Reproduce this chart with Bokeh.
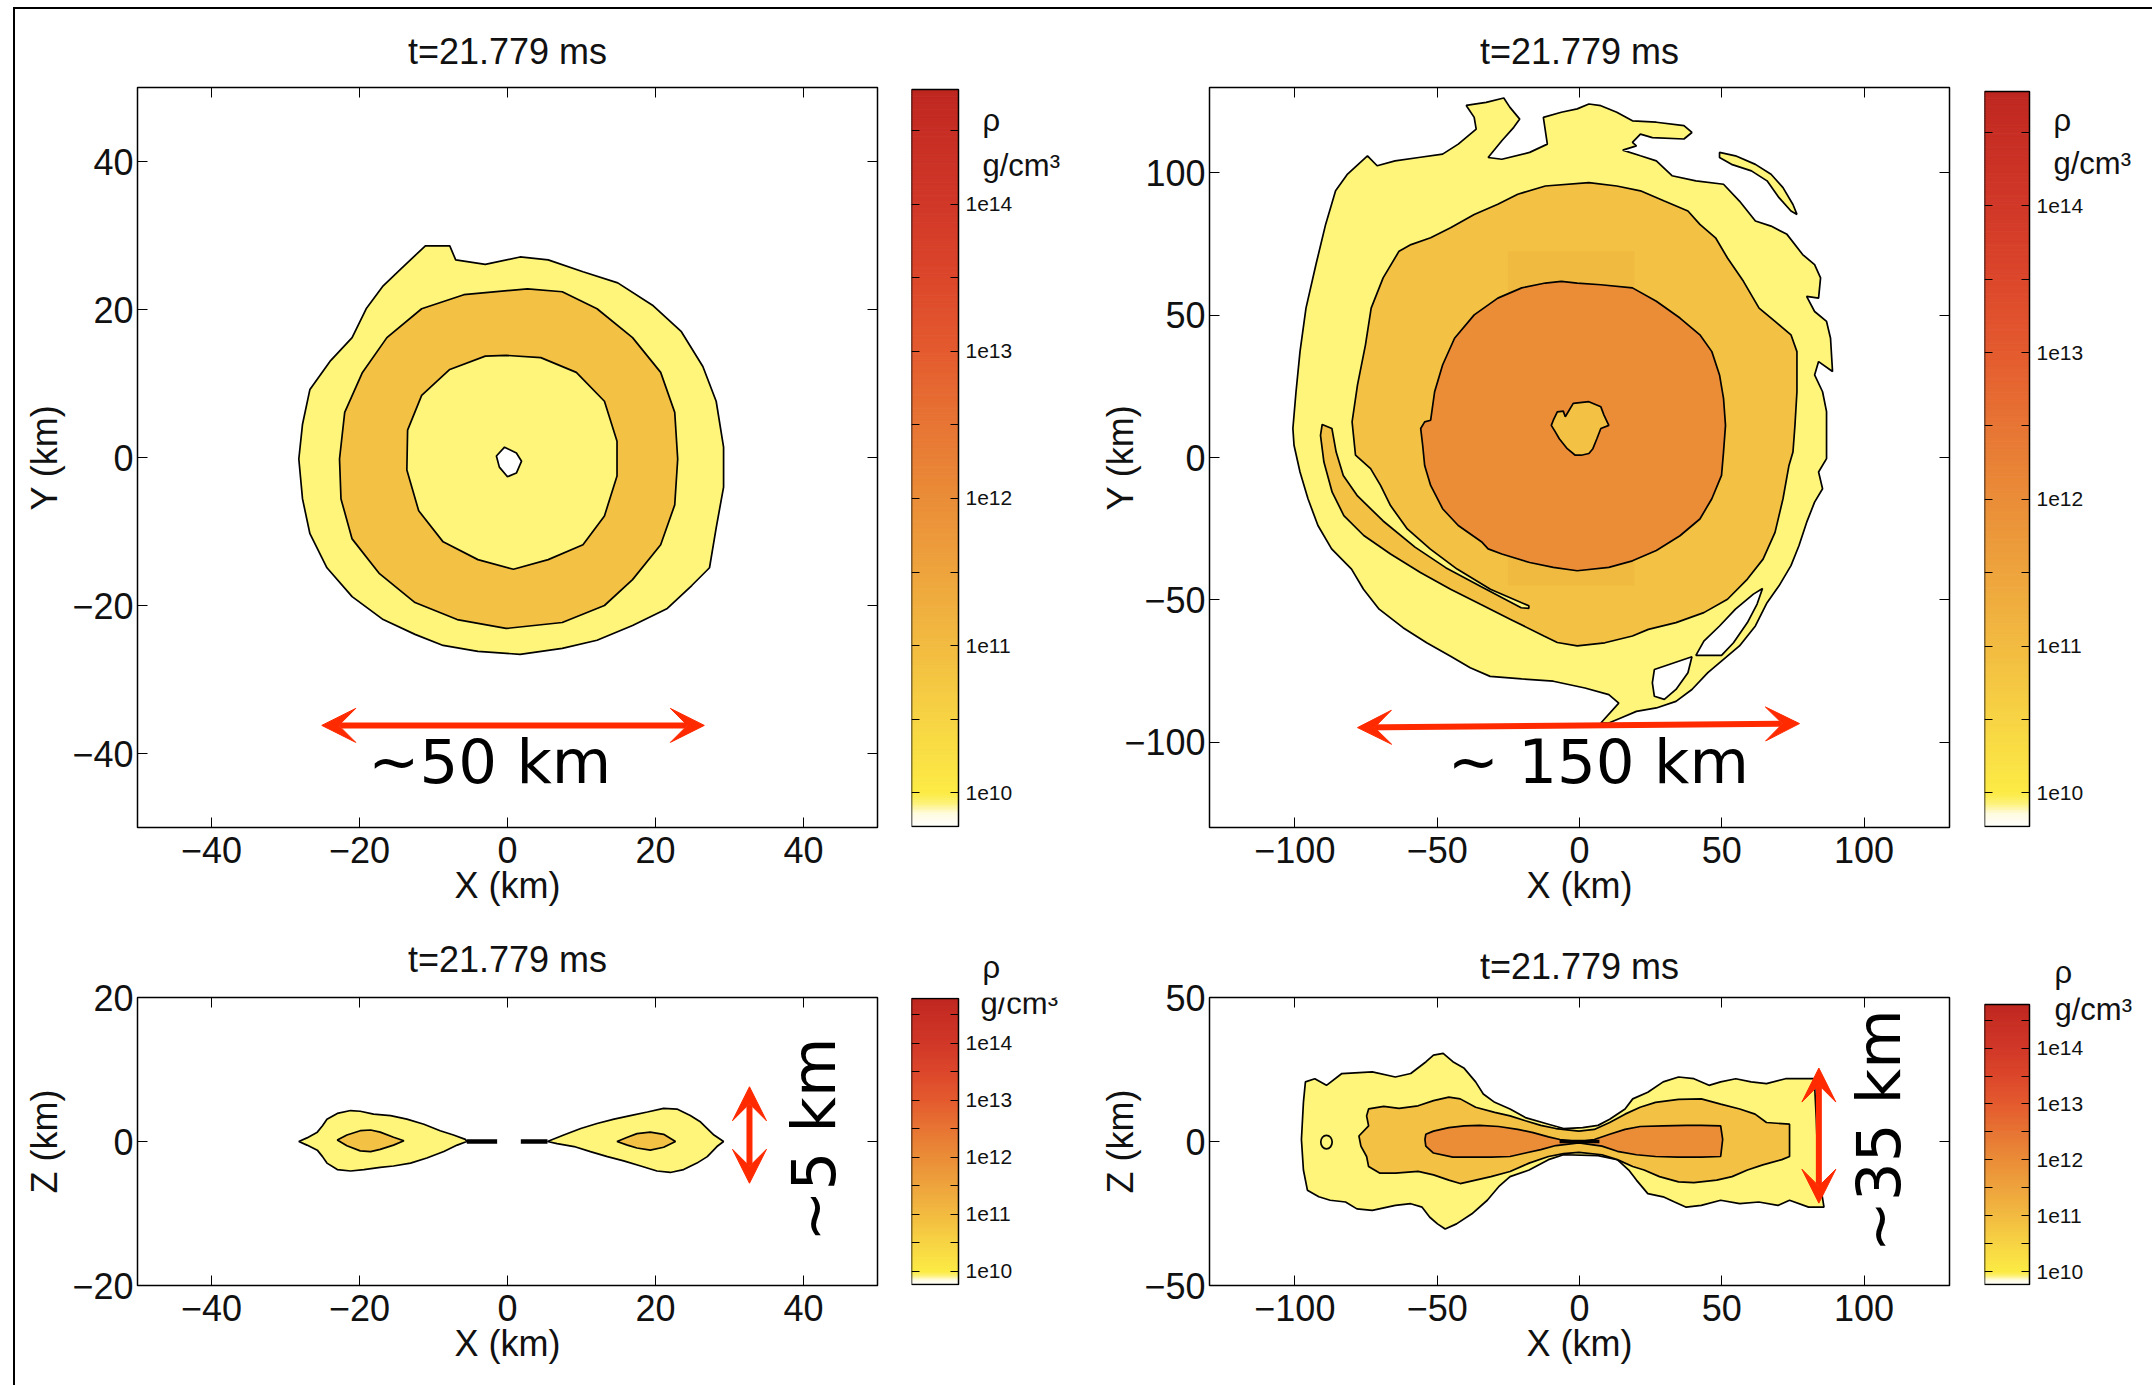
import numpy as np
from bokeh.plotting import figure
from bokeh.layouts import row, column
from bokeh.models import (Range1d, FixedTicker, LinearAxis, Label, Arrow, VeeHead,
                          CustomJSTickFormatter)
from bokeh.embed import file_html
from bokeh.resources import INLINE

# ---------------------------------------------------------------- data
TITLE = "t=21.779 ms"

# density contour colours (levels ~1e10, ~1e11, ~1e12)
YEL, GOLD, ORNG = "#FFF57A", "#F3C244", "#EB8D37"

# colour bar (log10 rho)
CB_LO, CB_HI = 9.77, 14.78
CB_TICKS = [10, 10.5, 11, 11.5, 12, 12.5, 13, 13.5, 14, 14.5]
CB_LEVELS = [9.77, 9.86, 9.93, 10.0, 10.5, 11.0, 11.5, 12.0, 12.5, 13.0, 13.5, 14.0, 14.5, 14.78]
CB_COLORS = ["#FFFFFF", "#FFFBE0", "#FDF27A", "#FCEB45", "#F7D444", "#F2BB41", "#EEA43D",
             "#EA8D38", "#E77534", "#E45B2F", "#DC472B", "#D13828", "#C72E24", "#BE2720"]

# ---- top-left: X-Y plane, 50 km box
TL_OUTER = [(-11.1, 28.6), (-7.8, 28.6), (-7.0, 26.7), (-3.0, 26.1), (1.7, 27.1), (5.5, 26.7),
            (10.2, 25.1), (14.9, 23.6), (19.7, 20.5), (23.5, 17.0), (26.4, 12.3), (28.2, 7.6),
            (29.2, 1.4), (29.2, -4.0), (28.2, -9.5), (27.3, -14.9), (24.9, -17.3), (21.6, -20.4),
            (16.9, -22.7), (12.1, -24.7), (7.4, -25.8), (1.7, -26.6), (-4.0, -26.2), (-8.7, -25.4),
            (-12.5, -23.9), (-16.8, -21.9), (-21.0, -18.8), (-24.4, -14.9), (-26.7, -10.3),
            (-27.7, -5.6), (-28.2, -0.2), (-27.7, 4.5), (-26.7, 9.2), (-23.9, 13.1), (-21.0, 16.2),
            (-19.1, 20.1), (-16.8, 23.2), (-14.4, 25.5)]
TL_RING = [(2.7, 22.8), (7.4, 22.4), (12.1, 20.1), (16.9, 16.2), (20.7, 11.5), (22.6, 6.1),
           (23.0, -0.2), (22.6, -6.4), (20.7, -11.8), (16.9, -16.5), (13.1, -20.0), (7.4, -22.3),
           (-0.2, -23.1), (-6.8, -21.9), (-12.5, -19.6), (-17.3, -15.7), (-21.0, -11.0),
           (-22.5, -5.6), (-22.7, -0.2), (-22.0, 6.1), (-19.6, 11.5), (-16.3, 16.2), (-11.6, 20.1),
           (-5.9, 22.0)]
TL_INNER = [(-0.2, 13.8), (4.5, 13.5), (9.3, 11.5), (13.1, 7.6), (14.8, 2.2), (14.8, -2.5),
            (13.1, -7.9), (10.2, -11.8), (5.5, -13.8), (0.8, -15.1), (-4.0, -13.8), (-8.7, -11.4),
            (-12.0, -7.2), (-13.6, -1.7), (-13.5, 3.7), (-11.6, 8.4), (-7.8, 11.9), (-3.0, 13.7)]
TL_HOLE = [(-0.4, 1.4), (1.2, 0.6), (1.9, -0.5), (1.2, -2.1), (0.0, -2.6), (-1.1, -1.3), (-1.5, 0.2)]

# ---- top-right: X-Y plane, 150 km box
TR_OUTER = [(7.5, -93.3), (13.8, -86.3), (10.3, -83.3), (1.9, -81.0), (-9.2, -78.6), (-20.3, -77.8),
            (-31.4, -76.9), (-38.4, -73.9), (-45.3, -69.8), (-53.7, -65.1), (-62.0, -59.8),
            (-70.4, -53.3), (-75.9, -46.3), (-80.1, -39.2), (-87.1, -32.1), (-91.9, -23.9),
            (-95.4, -14.5), (-98.2, -5.1), (-100.3, 4.3), (-100.7, 10.2), (-99.6, 23.1),
            (-98.2, 37.2), (-96.1, 52.5), (-92.6, 67.8), (-89.2, 81.9), (-85.7, 93.7), (-81.5, 99.6),
            (-74.5, 106.0), (-71.1, 102.5), (-64.8, 104.2), (-56.5, 105.4), (-48.1, 106.6),
            (-42.6, 110.1), (-36.3, 115.4), (-37.0, 119.5), (-39.8, 123.7), (-32.8, 124.8),
            (-26.6, 126.3), (-24.5, 123.1), (-21.0, 118.9), (-23.1, 116.0), (-27.3, 111.3),
            (-32.1, 105.4), (-27.3, 104.8), (-17.5, 107.2), (-11.3, 110.1), (-12.7, 119.5),
            (-6.4, 121.3), (-0.8, 122.5), (3.3, 124.2), (7.5, 123.6), (13.1, 121.3), (18.6, 118.3),
            (27.0, 117.8), (36.7, 116.6), (39.5, 114.2), (36.7, 111.9), (25.6, 112.4), (21.4, 113.6),
            (18.6, 110.7), (20.0, 109.5), (15.2, 108.0), (21.4, 106.0), (27.0, 104.2), (32.5, 99.0),
            (40.9, 97.2), (50.6, 96.0), (56.2, 90.1), (61.8, 83.1), (67.3, 81.3), (72.9, 78.4),
            (78.4, 71.3), (82.6, 67.8), (84.7, 63.1), (84.0, 56.0), (79.8, 56.6), (82.6, 51.3),
            (86.8, 47.8), (88.2, 41.9), (88.9, 30.2), (84.0, 33.7), (82.6, 29.0), (85.4, 23.1),
            (86.8, 16.1), (86.8, -0.4), (84.0, -5.1), (85.4, -11.0), (82.6, -15.7), (79.8, -22.8),
            (77.1, -31.0), (74.3, -38.0), (70.1, -45.1), (65.9, -51.0), (61.8, -59.2), (56.2, -66.2),
            (50.6, -70.9), (45.1, -75.6), (39.5, -81.5), (33.9, -85.7), (27.0, -88.0), (20.0, -89.2),
            (14.5, -91.5), (10.3, -93.3)]
TR_FILAMENT = [(49.2, 107.2), (54.8, 106.0), (61.8, 103.0), (67.3, 99.5), (71.5, 94.8), (75.0, 88.9),
               (76.4, 85.4), (74.3, 86.6), (70.1, 91.3), (65.9, 97.2), (60.4, 100.7), (53.4, 103.0),
               (49.2, 105.4)]
TR_HOLE1 = [(64.3, -46.0), (61.1, -48.0), (54.8, -53.3), (49.2, -59.2), (43.7, -64.5), (40.9, -69.5),
            (49.9, -69.5), (54.1, -65.1), (59.0, -58.0), (62.4, -51.5)]
TR_HOLE2 = [(26.3, -74.5), (39.5, -70.0), (38.1, -75.6), (33.9, -81.5), (29.8, -85.0), (26.3, -83.9),
            (25.6, -79.2)]
TR_MID = [(-79.9, 12.5), (-78.0, 25.5), (-75.2, 39.6), (-73.2, 52.5), (-69.0, 63.1), (-63.4, 72.5),
          (-59.2, 74.8), (-52.3, 77.2), (-45.3, 80.7), (-37.0, 85.4), (-28.7, 89.0), (-21.7, 92.5),
          (-12.0, 95.4), (3.3, 96.6), (13.1, 95.4), (21.4, 93.7), (29.8, 90.1), (38.1, 86.6),
          (42.3, 81.9), (47.8, 77.2), (52.0, 70.1), (57.6, 61.9), (63.1, 52.5), (68.7, 47.8),
          (74.3, 43.1), (76.4, 37.2), (76.4, 23.1), (75.7, 11.3), (75.0, 1.9), (73.6, -2.8),
          (71.5, -14.5), (68.7, -26.3), (64.5, -35.7), (59.0, -42.7), (52.0, -49.8), (43.7, -54.5),
          (33.9, -58.0), (24.2, -60.4), (18.6, -62.7), (8.9, -65.1), (-0.8, -66.2), (-7.8, -65.0),
          (-12.5, -62.7), (-24.2, -56.9), (-34.8, -51.6), (-45.3, -46.3), (-55.9, -40.4),
          (-66.4, -33.9), (-75.8, -27.4), (-82.8, -20.4), (-86.9, -12.2), (-89.8, -1.6),
          (-91.0, 7.8), (-90.4, 11.6), (-87.0, 10.2), (-85.5, 1.9), (-83.0, -6.3), (-78.0, -13.5),
          (-69.0, -22.3), (-57.8, -31.5), (-47.0, -38.7), (-34.5, -45.4), (-20.5, -52.8),
          (-17.8, -53.0), (-17.8, -52.1), (-31.3, -46.3), (-43.0, -39.2), (-52.4, -32.2),
          (-60.5, -25.1), (-66.4, -16.9), (-69.9, -9.8), (-73.4, -3.9), (-78.7, 0.8)]
TR_TILE = (-25.2, 19.3, -45.0, 72.5)   # left, right, bottom, top of a refined grid patch
TR_CORE = [(-55.8, 10.2), (-54.4, 12.5), (-52.3, 13.1), (-50.9, 23.1), (-48.1, 32.5), (-43.9, 41.9),
           (-37.0, 50.1), (-28.7, 56.0), (-20.3, 59.6), (-12.0, 61.3), (-6.4, 61.9), (-0.8, 61.3),
           (7.5, 60.7), (18.6, 59.6), (27.0, 54.9), (35.3, 49.0), (42.3, 43.1), (46.5, 37.2),
           (49.2, 29.0), (50.6, 20.8), (51.3, 11.3), (50.6, 1.9), (49.9, -6.3), (46.5, -14.5),
           (42.3, -21.6), (35.3, -27.5), (27.0, -32.7), (18.6, -36.3), (10.3, -38.6), (-0.8, -39.8),
           (-9.2, -38.6), (-17.5, -36.9), (-27.3, -33.9), (-32.1, -32.1), (-34.2, -29.8),
           (-42.6, -23.9), (-48.1, -18.0), (-52.3, -9.8), (-54.4, -2.8), (-55.1, 4.3)]
TR_CENTER = [(-9.2, 13.1), (-7.8, 16.0), (-5.7, 16.3), (-5.0, 14.3), (-2.2, 19.0), (3.3, 19.6),
             (7.5, 17.8), (8.6, 14.9), (10.3, 11.3), (7.5, 10.2), (6.1, 6.6), (4.7, 3.1), (3.3, 1.4),
             (0.6, 0.8), (-1.5, 0.8), (-4.3, 3.1), (-7.1, 6.6), (-8.5, 9.0), (-9.9, 11.3)]

# ---- bottom-left: X-Z plane, 50 km box
BL_LEFT_OUT = [(-28.2, 0.0), (-27.1, 0.5), (-25.7, 1.3), (-25.0, 2.2), (-24.4, 3.1), (-23.0, 3.9),
               (-21.2, 4.3), (-19.9, 4.2), (-18.1, 3.8), (-15.8, 3.6), (-13.6, 3.1), (-11.3, 2.4),
               (-9.1, 1.5), (-7.3, 0.9), (-5.7, 0.3), (-5.5, 0.0), (-6.8, -0.5), (-8.6, -1.4),
               (-10.9, -2.3), (-13.1, -3.0), (-15.4, -3.4), (-17.2, -3.6), (-19.4, -3.9),
               (-21.2, -4.1), (-23.0, -3.9), (-24.4, -3.0), (-25.0, -2.1), (-25.7, -1.2), (-27.1, -0.5)]
BL_LEFT_MID = [(-23.0, 0.2), (-21.7, 0.9), (-19.9, 1.5), (-18.5, 1.6), (-17.2, 1.3), (-15.4, 0.6),
               (-14.0, 0.1), (-15.4, -0.5), (-17.2, -1.1), (-18.5, -1.4), (-19.9, -1.3), (-21.7, -0.6)]
BL_RIGHT_OUT = [(5.4, 0.0), (7.6, 0.9), (9.9, 1.8), (12.1, 2.5), (14.4, 3.1), (16.6, 3.6), (18.9, 4.1),
                (21.1, 4.6), (22.9, 4.5), (24.7, 3.6), (26.1, 2.7), (27.0, 1.8), (27.9, 0.9),
                (29.2, 0.0), (28.3, -0.7), (27.0, -2.1), (25.6, -3.0), (23.8, -3.9), (22.0, -4.3),
                (20.2, -4.1), (18.0, -3.4), (15.7, -2.7), (13.5, -2.1), (11.2, -1.4), (9.0, -0.7),
                (6.7, -0.3)]
BL_RIGHT_MID = [(14.8, 0.0), (16.2, 0.6), (17.5, 1.1), (19.3, 1.3), (21.1, 1.0), (22.7, 0.0),
                (21.1, -0.8), (19.3, -1.2), (17.5, -0.9), (16.2, -0.5)]
BL_JET_L = [(-5.5, 0.0), (-1.4, 0.0)]
BL_JET_R = [(1.8, 0.0), (5.4, 0.0)]

# ---- bottom-right: X-Z plane, 150 km box
BR_OUTER = [(-96.3, 20.7), (-93.0, 21.8), (-88.9, 19.5), (-83.5, 23.6), (-72.8, 24.2), (-64.7, 22.4),
            (-59.3, 23.6), (-53.9, 27.7), (-51.3, 30.0), (-47.9, 30.6), (-44.5, 27.7), (-40.5, 25.4),
            (-36.5, 20.7), (-33.8, 16.5), (-29.8, 13.6), (-24.4, 11.3), (-19.0, 8.3), (-10.9, 6.0),
            (-5.6, 4.5), (1.1, 4.8), (6.5, 5.6), (10.6, 7.7), (16.0, 11.3), (18.7, 14.8), (24.0, 17.1),
            (29.4, 20.7), (34.8, 22.4), (40.2, 21.8), (45.5, 19.5), (49.6, 20.7), (54.9, 21.8),
            (60.3, 20.7), (65.7, 20.1), (72.4, 21.8), (82.5, 21.8), (83.2, 7.7), (83.8, -9.9),
            (85.9, -22.8), (80.5, -22.8), (73.8, -20.4), (69.7, -22.2), (63.0, -21.0), (56.3, -21.6),
            (49.6, -20.4), (42.8, -22.2), (37.5, -22.8), (33.4, -21.0), (29.4, -19.2), (24.0, -18.1),
            (20.0, -13.4), (17.3, -9.9), (13.3, -6.3), (6.5, -4.9), (-5.6, -4.6), (-10.9, -6.3),
            (-17.7, -9.9), (-24.4, -12.2), (-28.4, -15.7), (-32.4, -20.4), (-37.8, -25.1),
            (-43.2, -28.6), (-47.2, -30.4), (-49.9, -28.6), (-52.6, -26.3), (-55.3, -22.8),
            (-59.3, -21.6), (-64.7, -22.2), (-72.8, -23.9), (-78.2, -23.4), (-82.2, -21.0),
            (-87.6, -20.4), (-91.6, -19.2), (-95.6, -16.9), (-97.0, -9.9), (-97.7, 0.7), (-97.0, 13.6)]
BR_MID = [(-74.1, 11.3), (-68.8, 12.2), (-63.4, 11.5), (-56.7, 12.4), (-51.3, 14.2), (-45.9, 15.4),
          (-41.9, 14.8), (-36.5, 11.9), (-29.8, 10.1), (-24.4, 8.9), (-19.0, 7.2), (-13.6, 5.6),
          (-8.3, 4.5), (-0.2, 3.6), (5.2, 4.2), (10.6, 6.6), (16.0, 9.5), (21.3, 11.9), (26.7, 13.6),
          (34.8, 14.6), (42.8, 14.8), (49.6, 13.0), (56.3, 11.3), (61.7, 9.5), (65.7, 6.6),
          (73.8, 6.0), (73.8, -5.2), (71.1, -6.3), (64.4, -8.1), (59.0, -9.9), (53.6, -12.2),
          (48.2, -13.4), (40.2, -14.3), (34.8, -14.0), (28.1, -12.2), (22.7, -9.9), (18.7, -8.7),
          (13.3, -6.3), (7.9, -4.6), (-0.2, -3.8), (-5.6, -4.2), (-10.9, -5.2), (-17.7, -7.5),
          (-24.4, -10.4), (-31.1, -12.2), (-36.5, -13.4), (-41.9, -14.6), (-45.9, -13.4),
          (-51.3, -11.6), (-56.7, -10.4), (-64.7, -11.0), (-70.1, -11.0), (-74.1, -8.7),
          (-74.8, -5.2), (-76.8, -1.6), (-77.5, 1.9), (-74.1, 5.4), (-74.8, 8.9)]
BR_CORE = [(-54.0, 2.5), (-51.3, 3.6), (-45.9, 4.8), (-40.5, 5.4), (-35.1, 5.6), (-28.4, 5.2),
           (-21.7, 4.2), (-16.3, 3.1), (-10.9, 1.6), (-6.9, 0.7), (-0.2, 0.0), (5.2, 0.7), (10.6, 2.5),
           (16.0, 4.2), (21.3, 5.2), (29.4, 5.4), (37.5, 5.6), (42.8, 5.6), (49.6, 5.4), (50.3, 0.7),
           (49.6, -5.2), (42.8, -5.4), (34.8, -5.4), (26.7, -5.2), (20.0, -4.6), (13.3, -3.4),
           (7.9, -1.6), (-0.2, -0.5), (-8.3, -1.4), (-13.6, -2.8), (-19.0, -4.0), (-24.4, -5.2),
           (-31.1, -5.4), (-37.8, -5.4), (-44.5, -5.4), (-51.3, -4.0), (-54.0, -1.6), (-54.3, 0.7)]
BR_KNOT = (-88.9, -0.2, 4.0, 4.7)   # x, y, width, height of a small closed contour
BR_JET = [(-7.0, 0.0), (7.0, 0.0)]

# ---------------------------------------------------------------- style
FONT = "Liberation Sans"
ANNO_FONT = "DejaVu Sans"
TXT = "#111111"
RED = "#FF2A00"
FS = "36px"
LW = 1.7


def xs(pts):
    return [p[0] for p in pts]


def ys(pts):
    return [p[1] for p in pts]


def minus_fmt():
    return CustomJSTickFormatter(code="return (tick < 0 ? '\u2212' : '') + Math.abs(tick).toString();")


def blank_fmt():
    return CustomJSTickFormatter(code="return '';")


def main_fig(xr, yr, xt, yt, xlab, ylab, fw, fh, bl, br, bt, bb, ystand, tstand):
    p = figure(frame_width=fw, frame_height=fh, x_range=Range1d(*xr), y_range=Range1d(*yr),
               min_border_left=bl, min_border_right=br, min_border_top=bt, min_border_bottom=bb,
               output_backend="svg", toolbar_location=None, title=TITLE)
    p.title.align = "center"
    p.title.text_font = FONT
    p.title.text_font_size = FS
    p.title.text_font_style = "normal"
    p.title.text_color = TXT
    p.title.standoff = tstand
    p.xgrid.visible = False
    p.ygrid.visible = False
    p.border_fill_color = None
    p.background_fill_color = "white"
    p.outline_line_color = "black"
    p.outline_line_width = 1.5
    for ax, ticks, lab in ((p.xaxis[0], xt, xlab), (p.yaxis[0], yt, ylab)):
        ax.ticker = FixedTicker(ticks=ticks)
        ax.formatter = minus_fmt()
        ax.major_tick_in = 10
        ax.major_tick_out = 0
        ax.minor_tick_line_color = None
        ax.axis_line_color = "black"
        ax.major_label_text_font = FONT
        ax.major_label_text_font_size = FS
        ax.major_label_text_color = TXT
        ax.axis_label = lab
        ax.axis_label_text_font = FONT
        ax.axis_label_text_font_size = FS
        ax.axis_label_text_font_style = "normal"
        ax.axis_label_text_color = TXT
    p.xaxis[0].major_label_standoff = 9
    p.xaxis[0].axis_label_standoff = -1
    p.yaxis[0].major_label_standoff = 4
    p.yaxis[0].axis_label_standoff = ystand
    for loc, ticks in (("above", xt), ("right", yt)):
        ax = LinearAxis(ticker=FixedTicker(ticks=ticks), formatter=blank_fmt(),
                        major_tick_in=10, major_tick_out=0, minor_tick_line_color=None,
                        major_label_standoff=0, major_label_text_font_size="1px",
                        axis_line_color="black")
        p.add_layout(ax, loc)
    return p


def patch(p, pts, color):
    p.patch(xs(pts), ys(pts), fill_color=color, line_color="black", line_width=LW)


def cbar_fig(bar_w, frame_w, frame_h, bl, bt, bb, pad_top, pad_bot, rho, g, rho_title=None):
    bar_px = frame_h - pad_top - pad_bot
    ppu = bar_px / (CB_HI - CB_LO)
    kw = {}
    if rho_title is not None:
        kw["title"] = "ρ"
    c = figure(frame_width=frame_w, frame_height=frame_h,
               x_range=Range1d(0, frame_w / bar_w),
               y_range=Range1d(CB_LO - pad_bot / ppu, CB_HI + pad_top / ppu),
               x_axis_location=None, y_axis_location=None,
               min_border_left=bl, min_border_right=0, min_border_top=bt, min_border_bottom=bb,
               output_backend="svg", toolbar_location=None, **kw)
    if rho_title is not None:
        c.title.text_font = FONT
        c.title.text_font_size = "31px"
        c.title.text_font_style = "normal"
        c.title.text_color = TXT
        c.title.align = "left"
        c.title.offset = rho_title[0]
        c.title.standoff = rho_title[1]
    c.xgrid.visible = False
    c.ygrid.visible = False
    c.border_fill_color = None
    c.background_fill_color = None
    c.outline_line_color = None
    edges = np.linspace(CB_LO, CB_HI, 301)
    mids = 0.5 * (edges[:-1] + edges[1:])
    rgb = np.array([[int(h[i:i + 2], 16) for i in (1, 3, 5)] for h in CB_COLORS], dtype=float)
    cols = []
    for m in mids:
        r, gg, b = (np.interp(m, CB_LEVELS, rgb[:, k]) for k in range(3))
        cols.append("#%02x%02x%02x" % (int(round(r)), int(round(gg)), int(round(b))))
    c.quad(left=0, right=1, bottom=edges[:-1], top=edges[1:], fill_color=cols, line_color=cols,
           line_width=1)
    c.quad(left=[0], right=[1], bottom=[CB_LO], top=[CB_HI], fill_color=None,
           line_color="black", line_width=1.5)
    right = LinearAxis(fixed_location=1, ticker=FixedTicker(ticks=CB_TICKS),
                       formatter=CustomJSTickFormatter(
                           code="return Number.isInteger(tick) ? '1e' + tick : '';"),
                       major_tick_in=8, major_tick_out=0, minor_tick_line_color=None,
                       axis_line_color=None, major_label_standoff=7,
                       major_label_text_font=FONT, major_label_text_font_size="21px",
                       major_label_text_color=TXT)
    c.add_layout(right, "right")
    left = LinearAxis(fixed_location=0, ticker=FixedTicker(ticks=CB_TICKS), formatter=blank_fmt(),
                      major_tick_in=8, major_tick_out=0, minor_tick_line_color=None,
                      axis_line_color=None, major_label_standoff=0,
                      major_label_text_font_size="1px")
    c.add_layout(left, "left")
    if rho is not None:
        c.add_layout(Label(x=1, y=CB_HI, x_offset=rho[0], y_offset=rho[1], text="ρ",
                           text_font=FONT, text_font_size="31px", text_color=TXT,
                           text_baseline="middle"))
    c.add_layout(Label(x=1, y=CB_HI, x_offset=g[0], y_offset=g[1], text="g/cm³",
                       text_font=FONT, text_font_size="31px", text_color=TXT,
                       text_baseline="middle"))
    return c


def arrow(p, x0, y0, x1, y1):
    p.add_layout(Arrow(start=VeeHead(size=34, fill_color=RED, line_color=RED),
                       end=VeeHead(size=34, fill_color=RED, line_color=RED),
                       x_start=x0, y_start=y0, x_end=x1, y_end=y1,
                       line_color=RED, line_width=6))


def note(p, x, y, text, angle=0.0):
    p.add_layout(Label(x=x, y=y, text=text, angle=angle, text_font=ANNO_FONT,
                       text_font_size="61px", text_color="black", text_align="center",
                       text_baseline="alphabetic"))


# ---------------------------------------------------------------- layout sizes (px)
T1, H1, B1 = 87, 740, 92      # row 1: top border, frame height, bottom border
T2, H2, B2 = 78, 288, 100     # row 2

# ---------------------------------------------------------------- panels
p_tl = main_fig((-50, 50), (-50, 50), [-40, -20, 0, 20, 40], [-40, -20, 0, 20, 40],
                "X (km)", "Y (km)", 740, H1, 137, 13, T1, B1, 4, 31)
patch(p_tl, TL_OUTER, YEL)
patch(p_tl, TL_RING, GOLD)
patch(p_tl, TL_INNER, YEL)
patch(p_tl, TL_HOLE, "white")
arrow(p_tl, -25.1, -36.2, 26.6, -36.2)
note(p_tl, -2.4, -41.1, "~50 km")

p_tr = main_fig((-130, 130), (-130, 130), [-100, -50, 0, 50, 100], [-100, -50, 0, 50, 100],
                "X (km)", "Y (km)", 740, H1, 134, 15, T1, B1, -20, 31)
patch(p_tr, TR_OUTER, YEL)
patch(p_tr, TR_FILAMENT, YEL)
patch(p_tr, TR_HOLE1, "white")
patch(p_tr, TR_HOLE2, "white")
patch(p_tr, TR_MID, GOLD)
p_tr.quad(left=[TR_TILE[0]], right=[TR_TILE[1]], bottom=[TR_TILE[2]], top=[TR_TILE[3]],
          fill_color="#F0BA41", line_color=None)
patch(p_tr, TR_CORE, ORNG)
patch(p_tr, TR_CENTER, GOLD)
arrow(p_tr, -78.0, -94.9, 77.3, -93.5)
note(p_tr, 6.6, -106.8, "~ 150 km")

p_bl = main_fig((-50, 50), (-20, 20), [-40, -20, 0, 20, 40], [-20, 0, 20],
                "X (km)", "Z (km)", 740, H2, 137, 13, T2, B2, 4, 35)
patch(p_bl, BL_LEFT_OUT, YEL)
patch(p_bl, BL_RIGHT_OUT, YEL)
patch(p_bl, BL_LEFT_MID, GOLD)
patch(p_bl, BL_RIGHT_MID, GOLD)
p_bl.line(xs(BL_JET_L), ys(BL_JET_L), line_color="black", line_width=4.5)
p_bl.line(xs(BL_JET_R), ys(BL_JET_R), line_color="black", line_width=4.5)
arrow(p_bl, 32.7, 7.6, 32.7, -5.8)
note(p_bl, 41.4, 0.25, "~5 km", angle=np.pi / 2)

p_br = main_fig((-130, 130), (-50, 50), [-100, -50, 0, 50, 100], [-50, 0, 50],
                "X (km)", "Z (km)", 740, H2, 134, 15, T2, B2, 0, 22)
patch(p_br, BR_OUTER, YEL)
p_br.ellipse(x=[BR_KNOT[0]], y=[BR_KNOT[1]], width=[BR_KNOT[2]], height=[BR_KNOT[3]],
             fill_color=YEL, line_color="black", line_width=LW)
patch(p_br, BR_MID, GOLD)
patch(p_br, BR_CORE, ORNG)
p_br.line(xs(BR_JET), ys(BR_JET), line_color="black", line_width=3.5)
arrow(p_br, 84.1, 25.5, 84.1, -21.4)
note(p_br, 105.0, 3.7, "~35 km", angle=np.pi / 2)

c_tl = cbar_fig(47, 164, H1, 21, T1, B1, 2, 1, (24, -31), (24, -76))
c_tr = cbar_fig(45, 168, H1, 20, T1, B1, 4, 1, (24, -29), (24, -72))
c_bl = cbar_fig(47, 164, H2, 21, T2, B2, 1, 1, None, (22, -5), rho_title=(71, 25))
c_br = cbar_fig(45, 168, H2, 20, T2, B2, 7, 1, None, (25, -5), rho_title=(70, 15))

top = row(p_tl, c_tl, p_tr, c_tr, spacing=0)
bottom = row(p_bl, c_bl, p_br, c_br, spacing=0)
layout = column(top, bottom, spacing=0,
                styles={"background-image": "linear-gradient(#000,#000), linear-gradient(#000,#000)",
                        "background-size": "2px 100%, 100% 2px",
                        "background-position": "13px 7px, 13px 7px",
                        "background-repeat": "no-repeat"})

open("out.html", "w").write(file_html(layout, INLINE, title="density contours"))
